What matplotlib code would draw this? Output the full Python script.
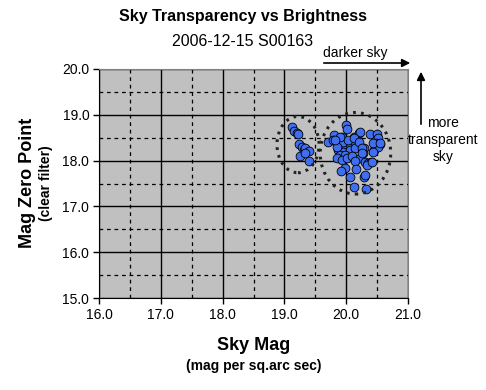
import matplotlib.pyplot as plt
from matplotlib.patches import Ellipse
from matplotlib.ticker import MultipleLocator

plt.rcParams['font.family'] = ['Liberation Sans', 'DejaVu Sans']

# sky mag (x) and zero point (y)
sky_mag = [19.13, 19.16, 19.20, 19.22, 19.24, 19.28, 19.31, 19.33, 19.40, 19.26,
           19.40, 19.34,
           20.00, 20.01, 19.81, 19.71, 19.79, 19.93, 20.12, 20.20, 20.23, 20.16,
           20.09, 20.01, 19.93, 19.87, 19.95, 20.06, 20.14, 19.90, 19.98, 19.85,
           19.93, 20.01, 20.09, 20.28, 20.27, 20.22, 20.30, 20.36, 20.40, 20.33,
           20.14, 20.16, 19.98, 19.91, 20.06, 20.29, 20.12, 20.32, 20.39, 20.50,
           20.52, 20.54, 20.45, 20.48, 20.52, 19.95, 20.03, 19.85,
           19.90, 20.12, 20.20, 19.82, 20.25, 20.25, 20.44, 20.55, 20.44, 20.30,
           20.41]
zero_point = [18.73, 18.65, 18.61, 18.57, 18.36, 18.30, 18.23, 18.27, 18.22, 18.09,
              18.00, 18.16,
              18.78, 18.68, 18.56, 18.41, 18.45, 18.51, 18.52, 18.60, 18.63, 18.45,
              18.38, 18.34, 18.30, 18.23, 18.19, 18.23, 18.27, 18.12, 18.12, 18.05,
              18.01, 18.05, 18.09, 18.27, 18.16, 18.05, 17.98, 17.94, 17.98, 17.90,
              18.00, 17.81, 17.83, 17.78, 17.65, 17.64, 17.42, 17.37, 18.58, 18.58,
              18.49, 18.36, 18.23, 18.39, 18.30, 18.41, 18.45, 18.30,
              18.52, 18.49, 18.41, 18.45, 18.27, 18.16, 18.38, 18.38, 18.19, 17.69,
              17.98]

# circled groups: (x centre, y centre, width, height)
groups = [(19.22, 18.35, 0.68, 1.23), (20.15, 18.16, 1.14, 1.78)]

fig = plt.figure(figsize=(4.86, 3.90), dpi=100)
ax = fig.add_axes([99/486, 1 - 298/390, 309/486, 229/390])
ax.set_facecolor('#c0c0c0')
ax.set_xlim(16, 21)
ax.set_ylim(15, 20)

ax.xaxis.set_major_locator(MultipleLocator(1))
ax.yaxis.set_major_locator(MultipleLocator(1))
ax.xaxis.set_minor_locator(MultipleLocator(0.5))
ax.yaxis.set_minor_locator(MultipleLocator(0.5))
ax.grid(which='major', color='black', lw=1, ls='-')
ax.grid(which='minor', color='black', lw=0.9, ls=(0, (3, 3)))
ax.set_axisbelow(True)
ax.tick_params(which='minor', length=0)
ax.tick_params(which='major', direction='out', length=4, width=1, labelsize=10, pad=3)
ax.xaxis.set_major_formatter(lambda v, p: '%.1f' % v)
ax.yaxis.set_major_formatter(lambda v, p: '%.1f' % v)
for s in ['top', 'right']:
    ax.spines[s].set_color('#808080')

ax.scatter(sky_mag, zero_point, s=40, c='#3f6ff0', edgecolors='black', linewidths=0.6, zorder=3)

for cx, cy, w, h in groups:
    ax.add_patch(Ellipse((cx, cy), w, h, fill=False, ec='#222222', lw=2.2,
                         ls=(0, (0.9, 1.7)), zorder=4))

fig.text(0.5, 1 - 17/390, 'Sky Transparency vs Brightness', ha='center', va='center',
         fontsize=11.5, fontweight='bold')
fig.text(0.5, 1 - 41/390, '2006-12-15 S00163', ha='center', va='center', fontsize=11.5)

fig.text(254/486, 1 - 345/390, 'Sky Mag', ha='center', va='center', fontsize=13, fontweight='bold')
fig.text(254/486, 1 - 366/390, '(mag per sq.arc sec)', ha='center', va='center', fontsize=10,
         fontweight='bold')
fig.text(27/486, 1 - 183/390, 'Mag Zero Point', ha='center', va='center', rotation=90,
         fontsize=13, fontweight='bold')
fig.text(46/486, 1 - 183/390, '(clear filter)', ha='center', va='center', rotation=90,
         fontsize=10, fontweight='bold')

# direction hints
fig.text(355/486, 1 - 53/390, 'darker sky', ha='center', va='center', fontsize=10)
ax.annotate('', xy=(413/486, 1 - 63/390), xytext=(321/486, 1 - 63/390),
            xycoords='figure fraction', annotation_clip=False,
            arrowprops=dict(arrowstyle='-|>', color='black', lw=1.2, mutation_scale=12))
ax.annotate('', xy=(421/486, 1 - 69/390), xytext=(421/486, 1 - 127/390),
            xycoords='figure fraction', annotation_clip=False,
            arrowprops=dict(arrowstyle='-|>', color='black', lw=1.2, mutation_scale=12))
fig.text(443/486, 1 - 140/390, 'more\ntransparent\nsky', ha='center', va='center',
         fontsize=10, linespacing=1.25)

fig.savefig('out.png', dpi=100)
